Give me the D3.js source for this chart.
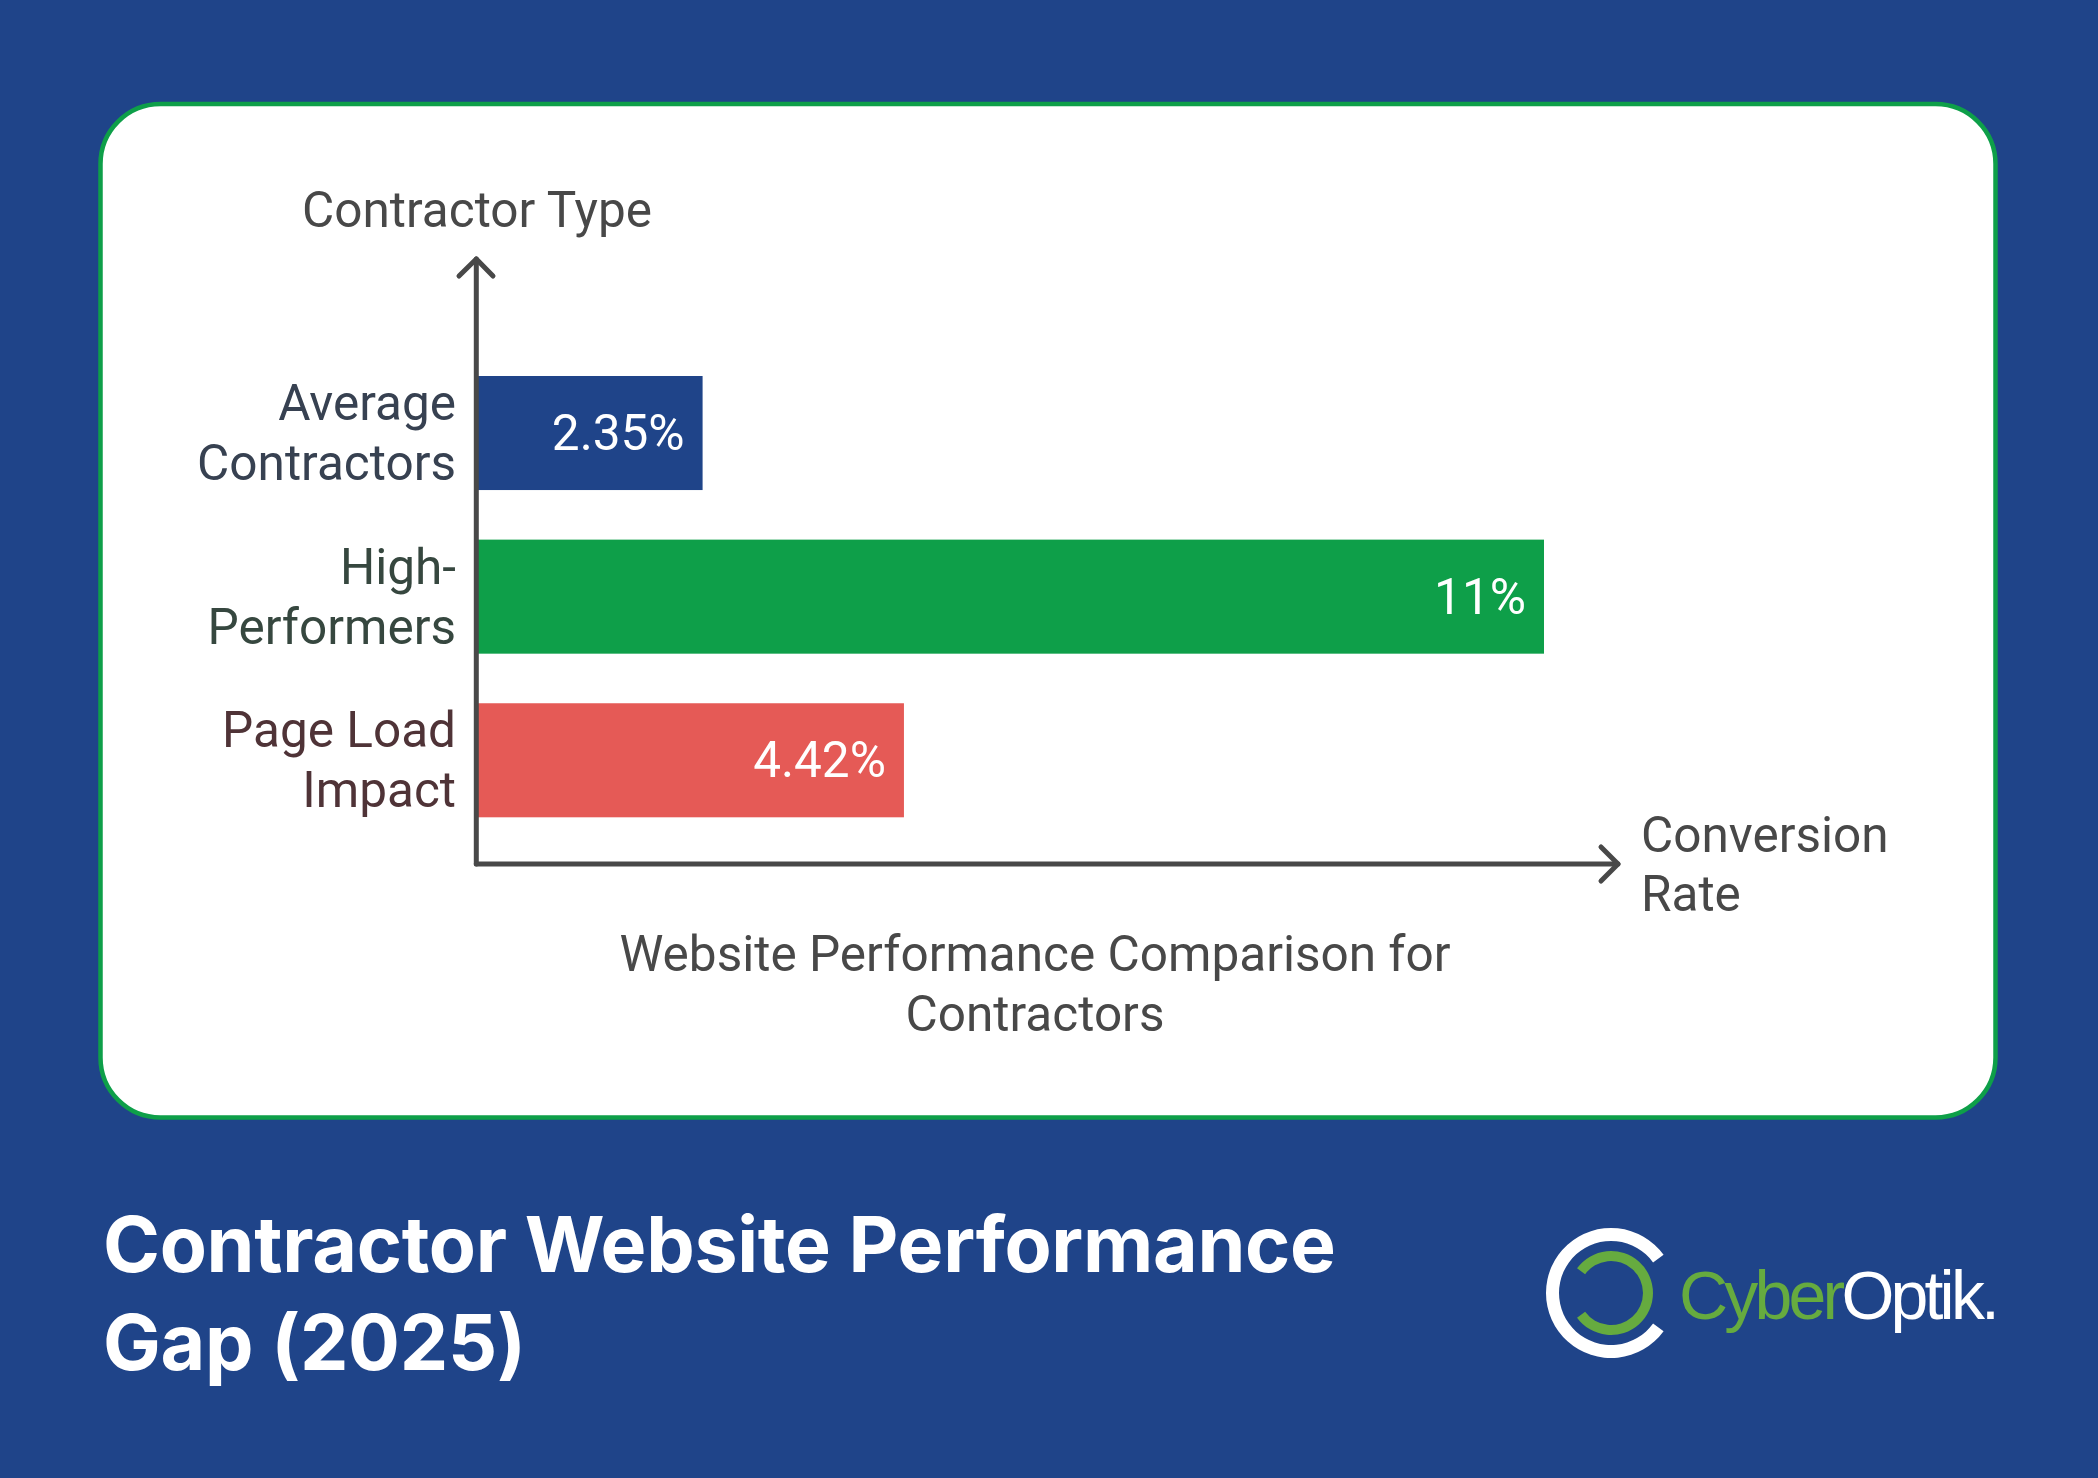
<!DOCTYPE html>
<html>
<head>
<meta charset="utf-8">
<script src="https://cdn.jsdelivr.net/npm/d3@7/dist/d3.min.js"></script>
<style>
  html, body { margin: 0; padding: 0; background: #1f4489; }
  text { font-family: Roboto, sans-serif; }
</style>
</head>
<body>
<div id="chart"></div>
<script>
// chart data
let categories = ["Average Contractors", "High-Performers", "Page Load Impact"];
let categoryLines = [["Average", "Contractors"], ["High-", "Performers"], ["Page Load", "Impact"]];
let values = [2.35, 11, 4.42];
let valueLabels = ["2.35%", "11%", "4.42%"];
let barColors = ["#1f4489", "#0e9f49", "#e55a56"];
let labelColors = ["#374151", "#36473f", "#4f3337"];
let xAxisLines = ["Conversion", "Rate"];
let yAxisTitle = "Contractor Type";
let subtitleLines = ["Website Performance Comparison for", "Contractors"];
let titleLines = ["Contractor Website Performance", "Gap (2025)"];

let width = 2098;
let height = 1478;
let axisColor = "#484848";
let labelSize = 49.5;

let svg = d3.select("#chart").append("svg")
  .attr("width", width)
  .attr("height", height)
  .style("display", "block");

svg.append("rect").attr("width", width).attr("height", height).attr("fill", "#1f4489");

// white card
svg.append("rect")
  .attr("x", 100.5).attr("y", 104)
  .attr("width", 1895).attr("height", 1013.5)
  .attr("rx", 60)
  .attr("fill", "#fff")
  .attr("stroke", "#0e9f49")
  .attr("stroke-width", 4.5);

let x = d3.scaleLinear().domain([0, 11]).range([474, 1544]);
let y = d3.scaleBand().domain(categories).range([376, 817.3]).paddingInner(0.303).paddingOuter(0);

// bars
svg.selectAll("rect.bar").data(categories).join("rect")
  .attr("class", "bar")
  .attr("x", x(0))
  .attr("y", d => y(d))
  .attr("width", (d, i) => x(values[i]) - x(0))
  .attr("height", y.bandwidth())
  .attr("fill", (d, i) => barColors[i]);

svg.selectAll("text.value").data(categories).join("text")
  .attr("class", "value")
  .attr("x", (d, i) => x(values[i]) - 18)
  .attr("y", d => y(d) + 74)
  .attr("text-anchor", "end")
  .attr("font-size", labelSize)
  .attr("fill", "#fff")
  .text((d, i) => valueLabels[i]);

// category axis, labels broken on two lines
let yAxis = svg.append("g")
  .attr("transform", "translate(476,0)")
  .call(d3.axisLeft(y).tickSize(0).tickPadding(20));
yAxis.select(".domain").remove();
yAxis.selectAll(".tick text")
  .attr("font-size", labelSize)
  .attr("font-family", "Roboto, sans-serif")
  .attr("fill", (d, i) => labelColors[i])
  .attr("dy", null)
  .text(null)
  .each(function(d, i) {
    d3.select(this).selectAll("tspan").data(categoryLines[i]).join("tspan")
      .attr("x", -20)
      .attr("y", (t, j) => -13 + j * 60)
      .text(t => t);
  });

// axis arrows
let axisLine = d3.line();
let axes = svg.append("g")
  .attr("fill", "none")
  .attr("stroke", axisColor)
  .attr("stroke-width", 5)
  .attr("stroke-linecap", "round")
  .attr("stroke-linejoin", "round");
axes.append("path").attr("d", axisLine([[476.3, 864], [476.3, 259]]));
axes.append("path").attr("d", axisLine([[459, 276], [476.3, 259], [493, 276]]));
axes.append("path").attr("d", axisLine([[476.3, 864], [1618, 864]]));
axes.append("path").attr("d", axisLine([[1601, 847], [1618, 864], [1601, 881]]));

svg.append("text")
  .attr("x", 477).attr("y", 227)
  .attr("text-anchor", "middle")
  .attr("font-size", labelSize)
  .attr("fill", axisColor)
  .text(yAxisTitle);

svg.selectAll("text.xname").data(xAxisLines).join("text")
  .attr("class", "xname")
  .attr("x", 1641)
  .attr("y", (d, i) => 852 + i * 59)
  .attr("font-size", labelSize)
  .attr("fill", axisColor)
  .text(d => d);

svg.selectAll("text.subtitle").data(subtitleLines).join("text")
  .attr("class", "subtitle")
  .attr("x", 1035)
  .attr("y", (d, i) => 971 + i * 60)
  .attr("text-anchor", "middle")
  .attr("font-size", labelSize)
  .attr("fill", axisColor)
  .text(d => d);

svg.selectAll("text.title").data(titleLines).join("text")
  .attr("class", "title")
  .attr("x", 103)
  .attr("y", (d, i) => 1272 + i * 98)
  .attr("font-size", 77)
  .attr("font-weight", 700)
  .attr("letter-spacing", -0.28)
  .attr("fill", "#fff")
  .style("font-family", "Inter, sans-serif")
  .text(d => d);

// logo
let logo = svg.append("g").attr("transform", "translate(1611,1293)");
let deg = Math.PI / 180;
logo.append("path")
  .attr("d", d3.arc().innerRadius(52).outerRadius(65).startAngle(126 * deg).endAngle(414 * deg)())
  .attr("fill", "#fff");
logo.append("path")
  .attr("d", d3.arc().innerRadius(32).outerRadius(42).startAngle(-54 * deg).endAngle(234 * deg)())
  .attr("fill", "#66ab3f");

let logoText = svg.append("text")
  .attr("x", 1679)
  .attr("y", 1319)
  .attr("font-size", 68)
  .attr("letter-spacing", -3.8)
  .style("font-family", "'Liberation Sans', sans-serif");
logoText.append("tspan").attr("fill", "#66ab3f").text("Cyber");
logoText.append("tspan").attr("fill", "#fff").text("Optik.");
</script>
</body>
</html>
